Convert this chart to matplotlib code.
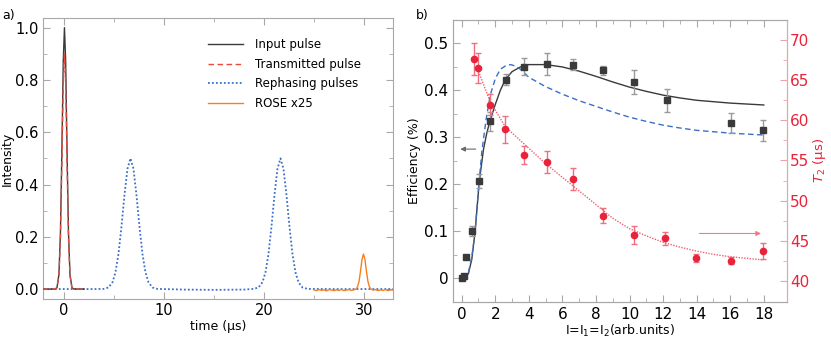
import matplotlib.pyplot as plt
import numpy as np

# ---- panel a: pulse traces ----
input_t = [-2.1, -0.9, -0.7, -0.5, -0.35, -0.2, -0.07, 0.05, 0.17, 0.3, 0.45, 0.6, 0.8, 1.0, 2.0]
input_i = [0.0, 0.0, 0.005, 0.057, 0.22, 0.55, 0.873, 1.0, 0.873, 0.55, 0.22, 0.057, 0.005, 0.0, 0.0]
trans_i = [0.0, 0.0, 0.0045, 0.051, 0.198, 0.495, 0.786, 0.9, 0.786, 0.495, 0.198, 0.051, 0.0045, 0.0, 0.0]

reph_t = [-2.1, 3.0, 3.95, 4.45, 4.85, 5.15, 5.45, 5.75, 6.05, 6.35, 6.65, 6.95, 7.25, 7.55, 7.85,
          8.15, 8.45, 8.85, 9.35, 12.0, 15.0, 18.0, 18.95, 19.45, 19.85, 20.15, 20.45, 20.75,
          21.05, 21.35, 21.65, 21.95, 22.25, 22.55, 22.85, 23.15, 23.45, 23.85, 24.35, 27.0, 33.0]
reph_i = [0.0, 0.0, 0.0006, 0.006, 0.026, 0.064, 0.134, 0.239, 0.36, 0.46, 0.5, 0.46, 0.36, 0.239, 0.134,
          0.064, 0.026, 0.006, 0.0006, -0.002, -0.003, -0.002, 0.0006, 0.006, 0.026, 0.064, 0.134, 0.239,
          0.36, 0.46, 0.5, 0.46, 0.36, 0.239, 0.134, 0.064, 0.026, 0.006, 0.0006, 0.0, 0.0]

rose_t = [25.0, 25.25, 25.5, 25.75, 26.0, 26.25, 26.5, 26.75, 27.0, 27.25, 27.5, 27.75, 28.0, 28.25,
          28.5, 28.75, 29.0, 29.2, 29.35, 29.5, 29.65, 29.8, 29.95, 30.1, 30.25, 30.4, 30.55, 30.7,
          30.9, 31.15, 31.4, 31.65, 31.9, 32.15, 32.4, 32.65, 32.9, 33.0]
rose_i = [-0.003, -0.006, -0.002, -0.005, -0.003, -0.007, -0.002, -0.004, -0.006, -0.003, -0.005, -0.002,
          -0.006, -0.004, -0.002, -0.005, -0.003, 0.0, 0.008, 0.028, 0.067, 0.113, 0.134, 0.113, 0.067,
          0.028, 0.008, 0.0, -0.004, -0.002, -0.006, -0.003, -0.005, -0.002, -0.006, -0.003, -0.004, -0.003]

# ---- panel b: efficiency and T2 measurements ----
eff_x = [0.0, 0.15, 0.24, 0.6, 1.05, 1.7, 2.62, 3.71, 5.06, 6.63, 8.39, 10.26, 12.22, 16.03, 17.98]
eff_y = [0.0, 0.005, 0.045, 0.101, 0.207, 0.334, 0.423, 0.45, 0.456, 0.455, 0.443, 0.418, 0.379, 0.331, 0.315]
eff_err = [0.004, 0.004, 0.004, 0.01, 0.015, 0.02, 0.012, 0.018, 0.023, 0.011, 0.01, 0.025, 0.025, 0.021, 0.022]

t2_x = [0.75, 0.99, 1.7, 2.6, 3.69, 5.06, 6.63, 8.39, 10.26, 12.1, 13.99, 16.03, 17.96]
t2_y = [67.6, 66.5, 61.95, 58.9, 55.7, 54.8, 52.7, 48.1, 45.7, 45.3, 42.9, 42.5, 43.7]
t2_err = [2.0, 1.9, 1.3, 1.7, 1.15, 1.35, 1.35, 0.95, 1.1, 0.8, 0.5, 0.45, 1.0]

fit_black_x = [0.0, 0.2, 0.4, 0.6, 0.8, 1.05, 1.3, 1.5, 1.7, 2.0, 2.3, 2.6, 3.0, 3.5, 4.0, 5.0, 6.0, 7.0,
               8.0, 9.0, 10.0, 11.0, 12.0, 13.0, 14.0, 15.0, 16.0, 17.0, 18.0]
fit_black_y = [0.0, 0.002, 0.01, 0.04, 0.1, 0.207, 0.275, 0.31, 0.337, 0.37, 0.4, 0.423, 0.44, 0.45, 0.455,
               0.455, 0.45, 0.441, 0.43, 0.418, 0.407, 0.398, 0.39, 0.384, 0.379, 0.376, 0.373, 0.371, 0.369]

fit_blue_x = [0.0, 0.2, 0.4, 0.6, 0.8, 1.0, 1.2, 1.45, 1.7, 2.0, 2.3, 2.6, 2.9, 3.2, 3.5, 4.0, 5.0, 6.0,
              7.0, 8.0, 9.0, 10.0, 11.0, 12.0, 13.0, 14.0, 15.0, 16.0, 17.0, 18.0]
fit_blue_y = [0.0, 0.003, 0.012, 0.045, 0.1, 0.19, 0.27, 0.337, 0.39, 0.425, 0.445, 0.452, 0.455, 0.452,
              0.445, 0.428, 0.408, 0.392, 0.378, 0.366, 0.354, 0.343, 0.334, 0.326, 0.32, 0.315, 0.312,
              0.309, 0.307, 0.305]

fit_red_x = [1.0, 1.7, 2.6, 3.8, 5.0, 6.0, 7.0, 8.0, 9.0, 10.0, 11.0, 12.0, 13.0, 14.0, 15.0, 16.0, 17.0, 18.0]
fit_red_y = [66.1, 62.3, 59.2, 56.9, 54.6, 52.9, 51.2, 49.5, 47.8, 46.5, 45.6, 44.8, 44.2, 43.7, 43.3, 43.0,
             42.8, 42.6]

DARK = "#3a3a3a"
RED = "#e8233a"
BLUE = "#3b6fc6"
ORANGE = "#f5801f"
SPINE = "#a8a8a8"

plt.rcParams["font.family"] = ["DejaVu Sans"]

fig = plt.figure(figsize=(8.31, 3.43), dpi=100)
ax1 = fig.add_axes([0.0517, 0.1283, 0.4212, 0.8192])
ax2 = fig.add_axes([0.5455, 0.1204, 0.4019, 0.8213])

# panel a
ax1.plot(reph_t, reph_i, color=BLUE, lw=1.3, linestyle=(0, (1, 1.2)), label="Rephasing pulses", zorder=2)
ax1.plot(input_t, input_i, color=DARK, lw=1.0, label="Input pulse", zorder=3)
ax1.plot(input_t, trans_i, color="#e84a3c", lw=1.0, linestyle=(0, (4, 2.5)), label="Transmitted pulse", zorder=4)
ax1.plot(rose_t, rose_i, color=ORANGE, lw=1.0, label="ROSE x25", zorder=5)

h, l = ax1.get_legend_handles_labels()
order = [1, 2, 0, 3]
ax1.legend([h[i] for i in order], [l[i] for i in order], loc="upper left",
           bbox_to_anchor=(0.44, 0.965), frameon=False, fontsize=8.5,
           handlelength=3.0, labelspacing=0.55, handletextpad=1.0)

ax1.set_xticks([0, 10, 20, 30])
ax1.set_xticks([-5 + 5 * k for k in range(8)], minor=True)
ax1.set_yticks([0.0, 0.2, 0.4, 0.6, 0.8, 1.0])
ax1.set_yticks(np.arange(0.1, 1.0, 0.2), minor=True)
ax1.set_xlim(-2.1, 32.9)
ax1.set_ylim(-0.038, 1.037)
ax1.set_xlabel("time (\u00b5s)", fontsize=9, labelpad=1)
ax1.set_ylabel("Intensity", fontsize=9, labelpad=1)
ax1.tick_params(which="both", direction="in", top=True, right=True, color=SPINE, labelsize=10.5, pad=3)
ax1.tick_params(which="major", length=5)
ax1.tick_params(which="minor", length=3)
for s in ax1.spines.values():
    s.set_color(SPINE)

# panel b
ax2.plot(fit_black_x, fit_black_y, color=DARK, lw=1.0, zorder=3)
ax2.plot(fit_blue_x, fit_blue_y, color=BLUE, lw=1.0, linestyle=(0, (4, 2.5)), zorder=3)
ax2.errorbar(eff_x, eff_y, yerr=eff_err, fmt="s", color=DARK, ms=4, ecolor="#9a9a9a",
             elinewidth=1.0, capsize=2.5, zorder=4)
ax2.annotate("", xy=(-0.25, 0.275), xytext=(1.0, 0.275),
             arrowprops=dict(arrowstyle="-|>", color="#6a6a6a", lw=0.8, mutation_scale=7))

ax2b = ax2.twinx()
ax2b.plot(fit_red_x, fit_red_y, color="#f06070", lw=1.0, linestyle=(0, (1, 1)), zorder=3)
ax2b.errorbar(t2_x, t2_y, yerr=t2_err, fmt="o", color=RED, ms=4.5, ecolor="#f07080",
              elinewidth=1.0, capsize=2.5, zorder=4)
ax2b.annotate("", xy=(18.0, 45.9), xytext=(14.0, 45.9),
              arrowprops=dict(arrowstyle="-|>", color="#f07a88", lw=0.8, mutation_scale=7))

ax2.set_xticks(range(0, 19, 2))
ax2.set_xticks(range(1, 19, 2), minor=True)
ax2.set_yticks([0, 0.1, 0.2, 0.3, 0.4, 0.5])
ax2.set_yticklabels(["0", "0.1", "0.2", "0.3", "0.4", "0.5"])
ax2.set_yticks(np.arange(0.05, 0.55, 0.1), minor=True)
ax2b.set_yticks([40, 45, 50, 55, 60, 65, 70])
ax2b.set_yticks(np.arange(42.5, 72.5, 5), minor=True)
ax2.set_xlim(-0.5, 19.4)
ax2.set_ylim(-0.05, 0.55)
ax2b.set_ylim(37.4, 72.5)
ax2.set_xlabel("I=I$_1$=I$_2$(arb.units)", fontsize=9, labelpad=1)
ax2.set_ylabel("Efficiency (%)", fontsize=9, labelpad=2)
ax2b.set_ylabel("$T_2$ (\u00b5s)", fontsize=9.5, color=RED, labelpad=1)
ax2.tick_params(which="both", direction="in", top=True, right=False, color=SPINE, labelsize=11)
ax2.tick_params(which="major", length=5)
ax2.tick_params(which="minor", length=3)
ax2b.tick_params(which="both", direction="in", color="#f2a0aa", labelcolor=RED, labelsize=11, pad=2)
ax2b.tick_params(which="major", length=5)
ax2b.tick_params(which="minor", length=3)
for s in ax2.spines.values():
    s.set_color(SPINE)
for name, s in ax2b.spines.items():
    s.set_color("#f2a0aa" if name == "right" else SPINE)

fig.text(0.003, 0.975, "a)", fontsize=9, va="top")
fig.text(0.501, 0.975, "b)", fontsize=9, va="top")

fig.savefig("out.png", dpi=100)
